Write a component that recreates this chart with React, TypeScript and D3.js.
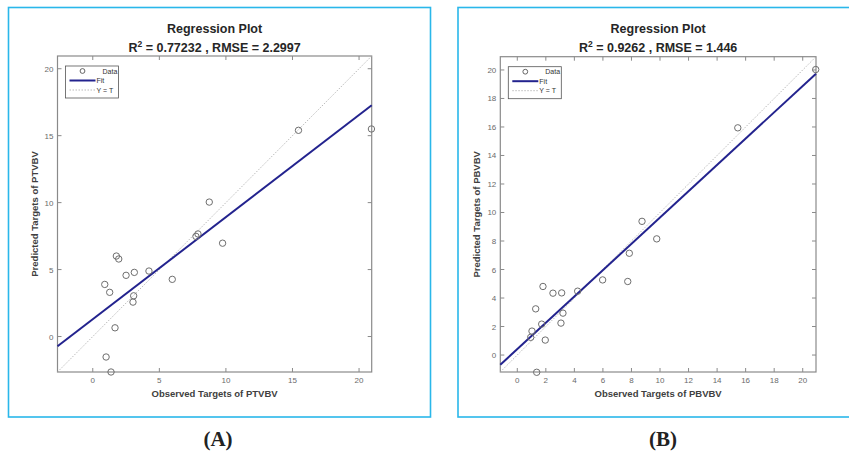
import React from "react";
import * as d3 from "d3";

// panel A (PTVBV)
const obsA = [0.9, 1.0, 1.27, 1.37, 1.67, 1.77, 1.95, 2.5, 3.02, 3.07, 3.12, 4.22, 5.97, 7.75, 7.9, 8.75, 9.75, 15.45, 20.93];
const predA = [3.89, -1.53, 3.3, -2.65, 0.65, 6.01, 5.79, 4.57, 2.57, 3.04, 4.79, 4.89, 4.27, 7.48, 7.66, 10.04, 6.97, 15.4, 15.5];
const fitA = { slope: 0.763, intercept: 1.29 };
const domainA: [number, number] = [-2.65, 20.95];
const ticksA = [0, 5, 10, 15, 20];

// panel B (PBVBV)
const obsB = [0.94, 1.03, 1.29, 1.36, 1.71, 1.8, 1.96, 2.5, 3.06, 3.11, 3.2, 4.23, 5.98, 7.74, 7.85, 8.74, 9.77, 15.45, 20.91];
const predB = [1.24, 1.68, 3.24, -1.21, 2.17, 4.81, 1.05, 4.34, 2.24, 4.36, 2.94, 4.48, 5.27, 5.16, 7.14, 9.38, 8.15, 15.94, 20.03];
const fitB = { slope: 0.923, intercept: 0.418 };
const domainB: [number, number] = [-1.19, 20.93];
const ticksB = [0, 2, 4, 6, 8, 10, 12, 14, 16, 18, 20];

const FONT = "'Liberation Sans', Arial, sans-serif";
const AXIS = "#8a8a8a";
const FIT = "#23238e";

type PanelProps = {
  frame: [number, number, number, number];
  plot: [number, number, number, number];
  obs: number[];
  pred: number[];
  fit: { slope: number; intercept: number };
  domain: [number, number];
  ticks: number[];
  r2: string;
  rmse: string;
  name: string;
  caption: string;
  captionX: number;
};

function Panel(p: PanelProps) {
  const [px0, py0, px1, py1] = p.plot;
  const x = d3.scaleLinear().domain(p.domain).range([px0, px1]);
  const y = d3.scaleLinear().domain(p.domain).range([py1, py0]);
  const line = d3.line<[number, number]>().x((d) => x(d[0])).y((d) => y(d[1]));
  const [d0, d1] = p.domain;
  const fitPts: [number, number][] = [d0, d1].map((v) => [v, p.fit.slope * v + p.fit.intercept]);
  const idPts: [number, number][] = [[d0, d0], [d1, d1]];
  const cx = (px0 + px1) / 2;
  const cy = (py0 + py1) / 2;
  const tk = 4;
  const lx = px0 + 8;
  const ly = py0 + 10;
  return (
    <g>
      <rect x={p.frame[0]} y={p.frame[1]} width={p.frame[2]} height={p.frame[3]} fill="none" stroke="#2ab7ea" strokeWidth={1.6} />
      <text x={cx} y={33} textAnchor="middle" fontFamily={FONT} fontWeight="bold" fontSize={12.5} fill="#262626">Regression Plot</text>
      <text x={cx} y={52} textAnchor="middle" fontFamily={FONT} fontWeight="bold" fontSize={12.5} fill="#262626">
        R<tspan dy={-5} fontSize={8.5}>2</tspan>
        <tspan dy={5}>{` = ${p.r2} , RMSE = ${p.rmse}`}</tspan>
      </text>
      <rect x={px0} y={py0} width={px1 - px0} height={py1 - py0} fill="#fff" stroke={AXIS} strokeWidth={1.2} />
      {p.ticks.map((t) => (
        <g key={"t" + t}>
          <line x1={x(t)} x2={x(t)} y1={py1} y2={py1 - tk} stroke={AXIS} />
          <line x1={x(t)} x2={x(t)} y1={py0} y2={py0 + tk} stroke={AXIS} />
          <line x1={px0} x2={px0 + tk} y1={y(t)} y2={y(t)} stroke={AXIS} />
          <line x1={px1} x2={px1 - tk} y1={y(t)} y2={y(t)} stroke={AXIS} />
          <text x={x(t)} y={py1 + 11} textAnchor="middle" fontFamily={FONT} fontSize={8} fill="#6a6a6a">{t}</text>
          <text x={px0 - 4} y={y(t) + 3} textAnchor="end" fontFamily={FONT} fontSize={8} fill="#6a6a6a">{t}</text>
        </g>
      ))}
      <path d={line(idPts) ?? ""} fill="none" stroke="#a8a8a8" strokeWidth={0.8} strokeDasharray="1.5,1.5" />
      <path d={line(fitPts) ?? ""} fill="none" stroke={FIT} strokeWidth={2} />
      {p.obs.map((o, i) => (
        <circle key={i} cx={x(o)} cy={y(p.pred[i])} r={3.2} fill="none" stroke="#6e6e6e" strokeWidth={1} />
      ))}
      <text x={cx} y={py1 + 25} textAnchor="middle" fontFamily={FONT} fontWeight="bold" fontSize={9.5} fill="#404040">{`Observed Targets of ${p.name}`}</text>
      <text transform={`translate(${px0 - 20},${cy}) rotate(-90)`} textAnchor="middle" fontFamily={FONT} fontWeight="bold" fontSize={9.5} fill="#404040">{`Predicted Targets of ${p.name}`}</text>
      <g>
        <rect x={lx} y={ly} width={53} height={32} fill="#fff" stroke="#555" strokeWidth={0.8} />
        <circle cx={lx + 17} cy={ly + 5} r={2.4} fill="none" stroke="#555" strokeWidth={0.9} />
        <text x={lx + 37} y={ly + 7.5} fontFamily={FONT} fontSize={7} fill="#333">Data</text>
        <line x1={lx + 4} x2={lx + 30} y1={ly + 14.5} y2={ly + 14.5} stroke={FIT} strokeWidth={2} />
        <text x={lx + 31} y={ly + 17} fontFamily={FONT} fontSize={7} fill="#333">Fit</text>
        <line x1={lx + 4} x2={lx + 30} y1={ly + 24} y2={ly + 24} stroke="#a8a8a8" strokeWidth={0.8} strokeDasharray="1.5,1.5" />
        <text x={lx + 31} y={ly + 26.5} fontFamily={FONT} fontSize={7} fill="#333">Y = T</text>
      </g>
      <text x={p.captionX} y={446} textAnchor="middle" fontFamily="'Liberation Serif', 'Times New Roman', serif" fontWeight="bold" fontSize={21} fill="#222">{p.caption}</text>
    </g>
  );
}

export default function App() {
  return (
    <svg width={849} height={454} style={{ position: "absolute", left: 0, top: 0, background: "#fff" }}>
      <Panel
        frame={[8.5, 7.5, 422, 409.5]}
        plot={[57.5, 56, 371.7, 372]}
        obs={obsA}
        pred={predA}
        fit={fitA}
        domain={domainA}
        ticks={ticksA}
        r2="0.77232"
        rmse="2.2997"
        name="PTVBV"
        caption="(A)"
        captionX={218}
      />
      <Panel
        frame={[458, 7.5, 400, 409.5]}
        plot={[500.3, 56.7, 816, 372]}
        obs={obsB}
        pred={predB}
        fit={fitB}
        domain={domainB}
        ticks={ticksB}
        r2="0.9262"
        rmse="1.446"
        name="PBVBV"
        caption="(B)"
        captionX={663}
      />
    </svg>
  );
}
